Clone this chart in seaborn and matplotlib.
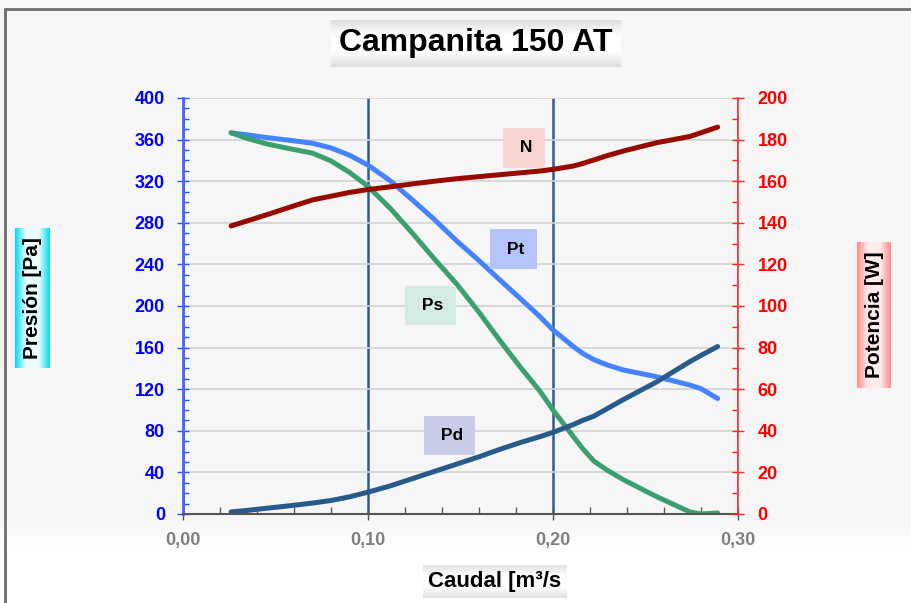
import numpy as np
import pandas as pd
import seaborn as sns
import matplotlib.pyplot as plt
from matplotlib.ticker import MultipleLocator, FuncFormatter
from matplotlib.lines import Line2D
from matplotlib.colors import to_rgb

# data
caudal = [0.026, 0.035, 0.045, 0.057, 0.070, 0.080, 0.090, 0.100, 0.112, 0.124, 0.136, 0.148,
          0.160, 0.171, 0.182, 0.193, 0.200, 0.211, 0.216, 0.222, 0.229, 0.238, 0.256, 0.274,
          0.280, 0.289]
p_total = [366.5, 364.5, 362, 359.5, 356.5, 352, 345, 335.5, 320.5, 302, 283, 262.5,
           243.7, 225.5, 207.7, 189.7, 177, 161, 154.5, 148.5, 143.5, 138.5, 132, 124,
           120.5, 111]
p_estatica = [366.5, 361, 356, 351.5, 347, 339.5, 328.5, 315, 294, 270, 245, 221,
              194, 167.5, 142, 118, 100, 74.4, 63, 51, 42.5, 33, 16.7, 2,
              0, 1]
p_dinamica = [2, 3.5, 5.5, 7.8, 10.5, 13, 16.5, 21, 27, 34, 41, 48,
              55, 62, 68.5, 74.4, 78.5, 86, 90, 94, 101, 110, 127, 146.5,
              152.5, 161]
potencia = [138.5, 141, 143.8, 147.3, 151, 152.8, 154.6, 156, 157.3, 158.7, 160, 161.2,
            162.2, 163.1, 164, 164.9, 165.7, 167.3, 168.5, 170.2, 172.2, 174.5, 178.5, 181.5,
            183.3, 186]
x_ticks = [0.0, 0.1, 0.2, 0.3]

W, H = 911, 603

sns.set_theme(style='white')
plt.rcParams['font.family'] = ['Liberation Sans', 'DejaVu Sans']
plt.rcParams['font.weight'] = 'bold'

n = len(caudal)
df = pd.DataFrame({
    'Caudal': caudal * 3,
    'Presion': p_total + p_estatica + p_dinamica,
    'Serie': ['Pt'] * n + ['Ps'] * n + ['Pd'] * n,
})
df_n = pd.DataFrame({'Caudal': caudal, 'Potencia': potencia})

colores = {'Pt': '#4683ff', 'Ps': '#3ca06e', 'Pd': '#285a8c'}

fig = plt.figure(figsize=(W / 100, H / 100), dpi=100)

# background: light gray fading to white under the axis
bg = fig.add_axes([0, 0, 1, 1], zorder=-10)
rows = np.linspace(0, 1, 300)
lvl = np.where(rows < 0.86, 0.968, 0.968 + (1 - 0.968) * np.clip((rows - 0.86) / 0.05, 0, 1))
bg.imshow(np.repeat(lvl[:, None, None], 3, axis=2), aspect='auto', extent=[0, 1, 0, 1])
bg.axis('off')

ax = fig.add_axes([183 / W, 1 - 514 / H, (738 - 183) / W, (514 - 98) / H])
ax.set_facecolor('none')
sns.lineplot(data=df, x='Caudal', y='Presion', hue='Serie', palette=colores,
             estimator=None, legend=False, lw=3.6, solid_capstyle='round',
             solid_joinstyle='round', ax=ax)

ax2 = ax.twinx()
sns.lineplot(data=df_n, x='Caudal', y='Potencia', color='#960a00',
             lw=3.6, solid_capstyle='round', solid_joinstyle='round', ax=ax2)

ax.set_xlim(0, 0.3)
ax.set_ylim(0, 400)
ax2.set_ylim(0, 200)
ax.set_xlabel('')
ax.set_ylabel('')
ax2.set_ylabel('')

ax.set_xticks(x_ticks)
ax.xaxis.set_minor_locator(MultipleLocator(0.02))
ax.yaxis.set_major_locator(MultipleLocator(40))
ax.yaxis.set_minor_locator(MultipleLocator(10))
ax2.yaxis.set_major_locator(MultipleLocator(20))
ax2.yaxis.set_minor_locator(MultipleLocator(10))
ax.xaxis.set_major_formatter(FuncFormatter(lambda v, p: f'{v:.2f}'.replace('.', ',')))

ax.grid(axis='y', color='#d2d2d2', lw=1.2)
ax.grid(axis='x', color='#2f5c8c', lw=1.8)
ax.set_axisbelow(True)

ax.tick_params(axis='y', which='major', direction='inout', length=8, width=1,
               color='#3050ff', labelcolor='#0000ff', labelsize=13, pad=9, left=True)
ax.tick_params(axis='y', which='minor', direction='in', length=4, width=1,
               color='#3050ff', left=True)
ax.tick_params(axis='x', which='major', direction='inout', length=8, width=1,
               color='#555555', labelcolor='#808080', labelsize=13, pad=9, bottom=True)
ax.tick_params(axis='x', which='minor', direction='in', length=5, width=1,
               color='#555555', bottom=True)
ax2.tick_params(axis='y', which='major', direction='inout', length=8, width=1,
                color='#ff2020', labelcolor='#ff0000', labelsize=13, pad=10, right=True)
ax2.tick_params(axis='y', which='minor', direction='in', length=4, width=1,
                color='#ff2020', right=True)

for side in ['top', 'right']:
    ax.spines[side].set_visible(False)
ax.spines['left'].set_color('#4466ff')
ax.spines['left'].set_linewidth(2)
ax.spines['bottom'].set_color('#555555')
ax.spines['bottom'].set_linewidth(1.5)
for side in ['top', 'left', 'bottom']:
    ax2.spines[side].set_visible(False)
ax2.spines['right'].set_color('#ff3030')
ax2.spines['right'].set_linewidth(1.2)

# curve labels
etiquetas = [(' N', 0.1843, 176.0, '#f8d4d0'),
             (' Pt', 0.1786, 127.4, '#b4c4f8'),
             (' Ps', 0.1338, 100.2, '#d4ece0'),
             (' Pd', 0.1441, 37.8, '#c8cce8')]
for txt, xx, yy, fc in etiquetas:
    ax2.text(xx, yy, txt, ha='center', va='center', fontsize=12.5, fontweight='bold',
             color='black', zorder=5,
             bbox=dict(boxstyle='square,pad=0.7', facecolor=fc, edgecolor='none'))


def caja_gradiente(x0, y0, x1, y1, c_borde, c_medio, horizontal, texto, size, rot=0):
    bax = fig.add_axes([x0 / W, 1 - y1 / H, (x1 - x0) / W, (y1 - y0) / H])
    t = np.linspace(-1, 1, 64)
    w = np.clip(1.6 * (1 - np.abs(t)), 0, 1)[:, None]
    img = np.array(to_rgb(c_borde)) * (1 - w) + np.array(to_rgb(c_medio)) * w
    img = img[None, :, :] if horizontal else img[:, None, :]
    bax.imshow(img, aspect='auto', extent=[0, 1, 0, 1], interpolation='bicubic')
    bax.axis('off')
    bax.text(0.5, 0.5, texto, ha='center', va='center', fontsize=size,
             fontweight='bold', rotation=rot, color='black', transform=bax.transAxes)


caja_gradiente(331, 20, 621, 67, '#dedede', '#ffffff', False, 'Campanita 150 AT', 23)
caja_gradiente(15, 228, 50, 368, '#00dcf4', '#eafcff', True, 'Presión [Pa]', 15, 90)
caja_gradiente(857, 242, 891, 388, '#ff8c8c', '#ffecec', True, 'Potencia [W]', 15, 90)
caja_gradiente(423, 565, 567, 598, '#e2e2e2', '#fdfdfd', False, 'Caudal [m³/s', 16)

# outer frame (left and top edges visible)
fig.add_artist(Line2D([5 / W, 5 / W], [0, 1 - 9 / H], color='#6e6e6e', lw=2,
                      transform=fig.transFigure))
fig.add_artist(Line2D([5 / W, 1], [1 - 9 / H, 1 - 9 / H], color='#6e6e6e', lw=2,
                      transform=fig.transFigure))

plt.savefig('out.png', dpi=100)
